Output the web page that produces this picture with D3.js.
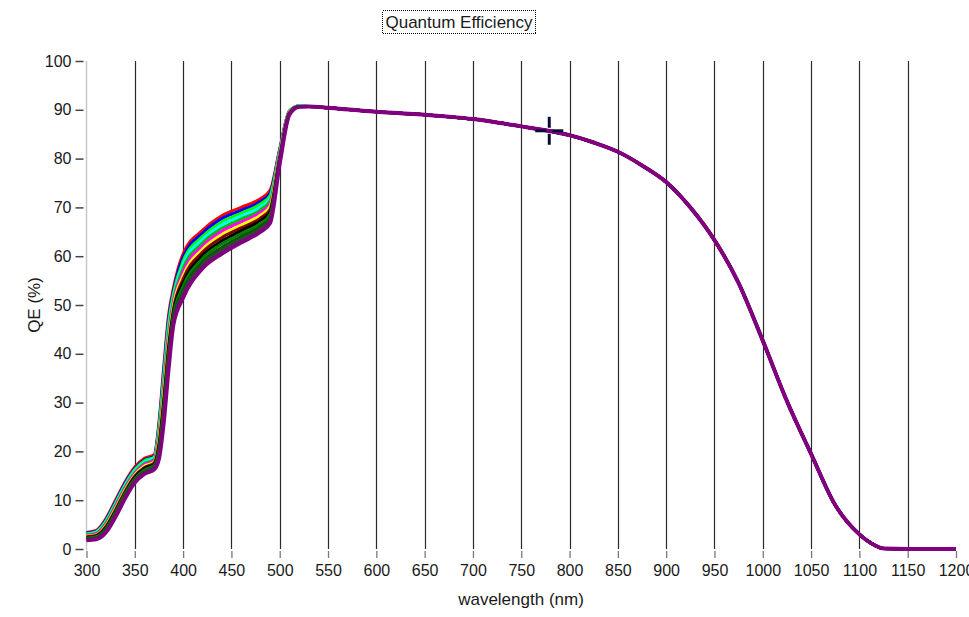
<!DOCTYPE html>
<html><head><meta charset="utf-8">
<script src="https://cdn.jsdelivr.net/npm/d3@7"></script>
<style>body{margin:0;background:#fff} svg{display:block;font-family:"Liberation Sans",Arial,sans-serif}</style>
</head><body><svg id="c" width="969" height="617"></svg>
<script>
// ---------- DATA ----------
const title = "Quantum Efficiency";
const xLabel = "wavelength (nm)";
const yLabel = "QE (%)";
const xTicks = [300,350,400,450,500,550,600,650,700,750,800,850,900,950,1000,1050,1100,1150,1200];
const yTicks = [0,10,20,30,40,50,60,70,80,90,100];
const gridX = [350,400,450,500,550,600,650,700,750,800,850,900,950,1000,1050,1100,1150];

// wavelengths where the individual curves differ
const wlHead = [300,310,320,330,340,350,360,370,375,380,385,390,400,420,440,460,480,490,500,510,520];
const qe01 = [3.4,3.8,6.2,10.0,13.8,16.8,18.6,19.3,26.0,37.5,48.0,53.5,60.5,65.3,68.3,70.0,71.8,73.5,82.0,89.8,90.8];
const qe02 = [3.3,3.6,6.0,9.7,13.5,16.5,18.3,19.0,25.4,36.5,47.1,52.9,59.8,64.7,67.7,69.4,71.2,72.9,81.8,89.7,90.8];
const qe03 = [3.1,3.5,5.7,9.4,13.2,16.3,18.1,18.8,24.8,35.6,46.2,52.3,59.0,64.0,67.0,68.8,70.7,72.4,81.5,89.7,90.8];
const qe04 = [3.0,3.4,5.5,9.2,13.0,16.0,17.8,18.6,24.1,34.6,45.3,51.6,58.3,63.4,66.4,68.2,70.1,71.8,81.3,89.6,90.8];
const qe05 = [2.9,3.2,5.3,8.9,12.7,15.7,17.5,18.3,23.5,33.7,44.3,51.0,57.5,62.7,65.7,67.6,69.5,71.3,81.0,89.5,90.7];
const qe06 = [2.7,3.1,5.0,8.6,12.4,15.5,17.3,18.1,22.9,32.7,43.4,50.4,56.8,62.1,65.1,67.0,69.0,70.7,80.8,89.5,90.7];
const qe07 = [2.6,2.9,4.8,8.3,12.1,15.2,17.0,17.8,22.3,31.8,42.5,49.8,56.0,61.4,64.4,66.4,68.4,70.2,80.5,89.4,90.7];
const qe08 = [2.5,2.8,4.6,8.0,11.8,14.9,16.7,17.6,21.6,30.8,41.6,49.1,55.3,60.8,63.8,65.8,67.8,69.6,80.3,89.3,90.7];
const qe09 = [2.3,2.6,4.3,7.7,11.5,14.7,16.5,17.3,21.0,29.8,40.7,48.5,54.5,60.1,63.1,65.2,67.3,69.0,80.0,89.3,90.7];
const qe10 = [2.2,2.5,4.1,7.5,11.3,14.4,16.2,17.1,20.4,28.9,39.8,47.9,53.8,59.5,62.5,64.6,66.7,68.5,79.8,89.2,90.7];
const qe11 = [2.1,2.3,3.9,7.2,11.0,14.1,15.9,16.8,19.8,27.9,38.8,47.3,53.0,58.8,61.8,64.0,66.1,67.9,79.5,89.1,90.6];
const qe12 = [1.9,2.2,3.6,6.9,10.7,13.9,15.7,16.6,19.1,27.0,37.9,46.6,52.3,58.2,61.2,63.4,65.6,67.4,79.3,89.1,90.6];
const qe13 = [1.8,2.0,3.4,6.6,10.4,13.6,15.4,16.3,18.5,26.0,37.0,46.0,51.5,57.5,60.5,62.8,65.0,66.8,79.0,89.0,90.6];

// shared tail where all curves coincide
const wlTail = [530,540,550,575,600,625,650,675,700,725,750,775,800,825,850,875,900,925,950,975,1000,1025,1050,1075,1100,1112,1125,1150,1200];
const qeTail = [90.7,90.6,90.4,90.0,89.6,89.3,89.0,88.6,88.1,87.4,86.6,85.8,84.8,83.3,81.4,78.6,75.2,70.0,63.3,54.5,42.7,30.3,19.5,9.0,3.0,1.2,0.1,0.0,0.0];

const seriesColors = ["#ff0000","#0000ff","#00ff00","#00ffff","#00c000","#ff00ff","#ffff00","#800000","#000000","#008000","#005a00","#3c3c3c","#800080"];
const headSeries = [qe01,qe02,qe03,qe04,qe05,qe06,qe07,qe08,qe09,qe10,qe11,qe12,qe13];

const cursor = {wl: 779, qe: 85.7};

// ---------- CHART ----------
const svg = d3.select("#c");
const x = d3.scaleLinear().domain([300,1200]).range([86.5,956]);
const y = d3.scaleLinear().domain([0,100]).range([549,61]);
const textCol = "#1a1a1a";

// grid
svg.append("g").selectAll("line").data(gridX).join("line")
  .attr("x1", d => Math.round(x(d)) + 0.5).attr("x2", d => Math.round(x(d)) + 0.5)
  .attr("y1", y(100)).attr("y2", y(0))
  .attr("stroke", "#2a2a2a").attr("stroke-width", 1.2);

// left axis line
svg.append("line").attr("x1", 86.5).attr("x2", 86.5).attr("y1", y(100)).attr("y2", y(0) + 1)
  .attr("stroke", "#c8c8c8").attr("stroke-width", 1.5);

// y axis
const gy = svg.append("g").attr("transform", "translate(83.5,0)")
  .call(d3.axisLeft(y).tickValues(yTicks).tickSize(8).tickPadding(4).tickFormat(d3.format("d")));
gy.select(".domain").remove();
gy.selectAll(".tick line").attr("stroke", "#444").attr("stroke-width", 1.5);
gy.selectAll(".tick text").attr("fill", textCol).style("font-size", "16px")
  .style("font-family", "'Liberation Sans',Arial,sans-serif");

// x axis
const gx = svg.append("g").attr("transform", "translate(0,551)")
  .call(d3.axisBottom(x).tickValues(xTicks).tickSize(7).tickPadding(7).tickFormat(d3.format("d")));
gx.select(".domain").remove();
gx.selectAll(".tick line").attr("stroke", "#7a7a7a").attr("stroke-width", 1.3);
gx.selectAll(".tick text").attr("fill", textCol).style("font-size", "16px")
  .style("font-family", "'Liberation Sans',Arial,sans-serif");

// curves
const line = d3.line().x(d => x(d[0])).y(d => y(d[1])).curve(d3.curveMonotoneX);
headSeries.forEach((vals, i) => {
  const pts = wlHead.map((w, j) => [w, vals[j]]).concat(wlTail.map((w, j) => [w, qeTail[j]]));
  const last = i === headSeries.length - 1;
  svg.append("path").datum(pts).attr("d", line)
    .attr("fill", "none").attr("stroke", seriesColors[i])
    .attr("stroke-width", last ? 4 : 3).attr("stroke-linejoin", "round");
});

// cursor cross
const cx = x(cursor.wl), cy = y(cursor.qe);
const cur = svg.append("g").attr("stroke", "#0c0c3c").attr("stroke-width", 3);
cur.append("line").attr("x1", cx - 14).attr("x2", cx - 3).attr("y1", cy).attr("y2", cy);
cur.append("line").attr("x1", cx + 3).attr("x2", cx + 14).attr("y1", cy).attr("y2", cy);
cur.append("line").attr("x1", cx).attr("x2", cx).attr("y1", cy - 14).attr("y2", cy - 3);
cur.append("line").attr("x1", cx).attr("x2", cx).attr("y1", cy + 3).attr("y2", cy + 14);

// title with dotted focus box
svg.append("rect").attr("x", 382.5).attr("y", 10.5).attr("width", 153).attr("height", 23)
  .attr("fill", "none").attr("stroke", "#000").attr("stroke-width", 1)
  .attr("stroke-dasharray", "1,1").attr("shape-rendering", "crispEdges");
svg.append("text").attr("x", 459).attr("y", 28).attr("text-anchor", "middle")
  .attr("fill", textCol).style("font-size", "17px").text(title);

// axis labels
svg.append("text").attr("x", 521).attr("y", 605).attr("text-anchor", "middle")
  .attr("fill", textCol).style("font-size", "17px").text(xLabel);
svg.append("text").attr("transform", "translate(39.5,305) rotate(-90)").attr("text-anchor", "middle")
  .attr("fill", textCol).style("font-size", "17px").text(yLabel);
</script></body></html>
